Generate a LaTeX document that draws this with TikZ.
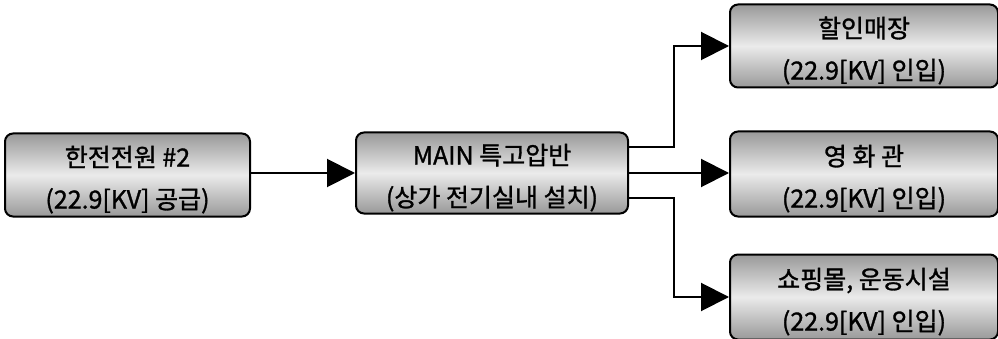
\documentclass[tikz,border=0pt]{standalone}
\usepackage{fontspec}
\newfontfamily\kr{Noto Sans CJK KR}[FakeBold=1.2]
\newcommand\upstrut{\rule{0pt}{30pt}}
\usetikzlibrary{arrows.meta,calc}
\begin{document}
\begin{tikzpicture}[x=1pt,y=-1pt,
  box/.style={draw=black, line width=2pt, rounded corners=8pt,
    top color=black!40, bottom color=black!40, middle color=black!8,
    minimum height=83pt, inner sep=0pt, align=center,
    font=\kr\fontsize{25}{42}\selectfont},
  arr/.style={draw=black, line width=2pt, -{Triangle[length=28pt,width=28pt]}}]
\useasboundingbox (0,0) rectangle (998,339);
\node[box, minimum width=245pt] (src) at (127.5,175) {\upstrut 한전전원 \#2\\(22.9[KV] 공급)};
\node[box, minimum width=272pt, minimum height=81pt] (main) at (492,173) {\upstrut MAIN 특고압반\\(상가 전기실내 설치)};
\node[box, minimum width=268pt] (r1) at (864,46) {\upstrut 할인매장\\(22.9[KV] 인입)};
\node[box, minimum width=268pt, minimum height=85pt] (r2) at (864,174) {\upstrut 영 화 관\\(22.9[KV] 인입)};
\node[box, minimum width=268pt, minimum height=85pt] (r3) at (864,297) {\upstrut 쇼핑몰, 운동시설\\(22.9[KV] 인입)};
\draw[arr] (src.east |- main.west) -- (main.west);
\draw[arr] ([yshift=26pt]main.east) -- ++(45,0) |- (r1.west);
\draw[arr] (main.east) -- (main.east -| r2.west);
\draw[arr] ([yshift=-25pt]main.east) -- ++(45,0) |- (r3.west);
\end{tikzpicture}
\end{document}
